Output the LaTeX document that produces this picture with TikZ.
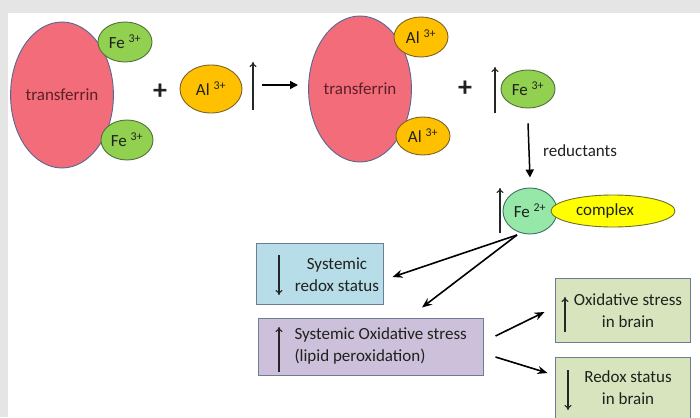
\documentclass[tikz,border=0pt]{standalone}
\usepackage{fontspec}
\setmainfont{Carlito}
\usepackage{tikz}
\usepackage{xcolor}
\usetikzlibrary{shapes.geometric,arrows.meta}

\definecolor{bggray}{RGB}{229,229,229}
\definecolor{tfpink}{RGB}{242,108,122}
\definecolor{tfedge}{RGB}{86,104,146}
\definecolor{tftext}{RGB}{92,32,38}
\definecolor{fegreen}{RGB}{146,208,80}
\definecolor{feedge}{RGB}{80,112,62}
\definecolor{alorange}{RGB}{255,192,0}
\definecolor{aledge}{RGB}{122,98,40}
\definecolor{femint}{RGB}{150,232,168}
\definecolor{mintedge}{RGB}{62,112,100}
\definecolor{cxyellow}{RGB}{255,255,0}
\definecolor{cxedge}{RGB}{112,112,40}
\definecolor{redoxblue}{RGB}{183,221,232}
\definecolor{oxlilac}{RGB}{204,192,218}
\definecolor{brainolive}{RGB}{215,228,189}
\definecolor{boxedge}{RGB}{110,125,150}
\definecolor{inktext}{RGB}{30,34,30}

\begin{document}
\begin{tikzpicture}[x=1pt,y=-1pt,
  txt/.style={font=\fontsize{17}{22}\selectfont, text=inktext},
  ion/.style={ellipse, draw, line width=0.9pt, inner sep=0pt, txt},
  tf/.style={ion, fill=tfpink, draw=tfedge, text=tftext, minimum width=92pt, minimum height=146pt},
  fe/.style={ion, fill=fegreen, draw=feedge},
  al/.style={ion, fill=alorange, draw=aledge},
  statebox/.style={rectangle, draw=boxedge, line width=1pt, inner sep=0pt},
  rxn/.style={-{Triangle[length=8pt,width=8pt]}, line width=1.5pt},
  effect/.style={-{Stealth[length=10pt,width=8pt]}, line width=1.6pt},
  indic/.style={-{To[length=5pt,width=7pt]}, line width=1.1pt, draw=black!85}]

\clip (0,0) rectangle (700,417);
\fill[bggray] (0,0) rectangle (700,417);
\fill[white] (8,13) rectangle (700,417);

\node[tf] (tfone) at (62,95) {transferrin};
\node[fe, minimum width=54pt, minimum height=40pt] (fetop) at (125,42) {Fe \textsuperscript{3+}};
\node[fe, minimum width=52pt, minimum height=40pt] (febot) at (127,140) {Fe \textsuperscript{3+}};
\node[txt, font=\fontsize{28}{28}\selectfont\bfseries] (plusone) at (160,92) {+};
\node[al, minimum width=62pt, minimum height=48pt] (alfree) at (211,89) {Al \textsuperscript{3+}};
\draw[indic] (253,110) -- (253,62);
\coordinate (rxnstart) at (262,85);
\coordinate (rxnend) at (298,85);
\draw[rxn] (rxnstart) -- (rxnend);

\node[tf, minimum width=96pt] (tftwo) at (360,89) {transferrin};
\node[al, minimum width=54pt, minimum height=40pt] (altop) at (421,37) {Al \textsuperscript{3+}};
\node[al, minimum width=54pt, minimum height=38pt] (albot) at (423,136) {Al \textsuperscript{3+}};
\node[txt, font=\fontsize{28}{28}\selectfont\bfseries] (plustwo) at (465,89) {+};
\draw[indic] (495,113) -- (495,67);
\node[fe, minimum width=54pt, minimum height=38pt] (fefree) at (528,89) {Fe \textsuperscript{3+}};

\node[ion, fill=femint, draw=mintedge, minimum width=54pt, minimum height=46pt] (fetwo) at (530,211) {Fe \textsuperscript{2+}};
\node[ion, fill=cxyellow, draw=cxedge, minimum width=124pt, minimum height=32pt] (cplx) at (613,211) {complex\hspace*{16pt}};
\draw[indic] (500,233) -- (500,188);
\draw[rxn] ([yshift=-15pt]fefree.south) -- ([yshift=10pt]fetwo.north)
  node[midway, right=10pt, txt] (reduct) {reductants};

\node[statebox, fill=redoxblue, minimum width=127pt, minimum height=61pt] (redox) at (319.5,273.5) {};
\node[txt, align=center] (redoxtxt) at (337,275) {Systemic\\redox status};
\draw[indic] (279,255) -- (279,295);

\node[statebox, fill=oxlilac, minimum width=225pt, minimum height=57pt] (oxid) at (370.5,346.5) {};
\node[txt, align=left, anchor=west] (oxidtxt) at (291,346) {Systemic Oxidative stress\\(lipid peroxidation)};
\draw[indic] (279,372) -- (279,327);

\node[statebox, fill=brainolive, minimum width=135pt, minimum height=64pt] (brainox) at (622.5,310) {};
\node[txt, align=center] (brainoxtxt) at (628,311) {Oxidative stress\\in brain};
\draw[indic] (565,332) -- (565,297);

\node[statebox, fill=brainolive, minimum width=135pt, minimum height=64pt] (brainred) at (622.5,389) {};
\node[txt, align=center] (brainredtxt) at (628,388) {Redox status\\in brain};
\draw[indic] (568,370) -- (568,410);

\coordinate (split) at (517,235);
\draw[effect] (split) -- ([xshift=9pt,yshift=-3.5pt]redox.east);
\draw[effect] (split) -- ([xshift=51.5pt,yshift=10pt]oxid.north);
\draw[effect] ([xshift=12pt,yshift=10.5pt]oxid.east) -- ([xshift=-10pt,yshift=-2pt]brainox.west);
\draw[effect] ([xshift=12pt,yshift=-10.5pt]oxid.east) -- ([xshift=-7pt,yshift=16pt]brainred.west);
\end{tikzpicture}
\end{document}
